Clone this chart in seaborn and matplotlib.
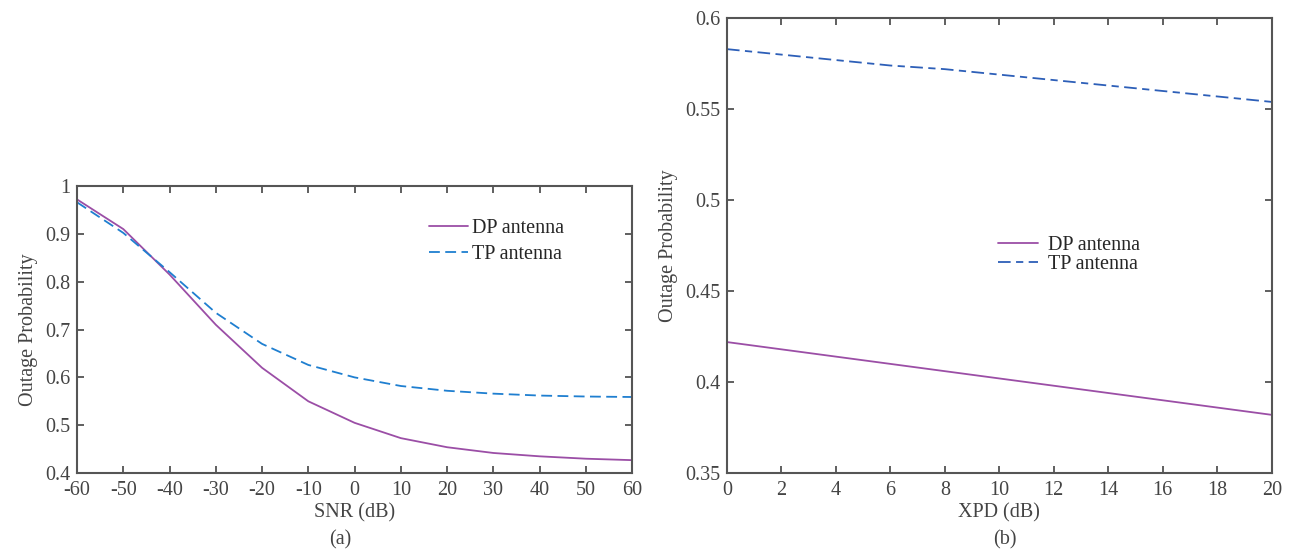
import numpy as np
import pandas as pd
import matplotlib
matplotlib.use("Agg")
import matplotlib.pyplot as plt
import seaborn as sns

sns.set_theme(style="white")
plt.rcParams['font.family'] = ['Liberation Serif', 'DejaVu Serif']
plt.rcParams['axes.unicode_minus'] = False

# (a) outage probability vs SNR
snr = [-60, -50, -40, -30, -20, -10, 0, 10, 20, 30, 40, 50, 60]
dp_snr = [0.972, 0.910, 0.815, 0.710, 0.620, 0.550, 0.505, 0.473, 0.454, 0.442, 0.435, 0.430, 0.427]
tp_snr = [0.966, 0.902, 0.820, 0.735, 0.670, 0.626, 0.600, 0.582, 0.572, 0.566, 0.562, 0.560, 0.559]

# (b) outage probability vs XPD
xpd = [0, 2, 4, 6, 8, 10, 12, 14, 16, 18, 20]
dp_xpd = [0.422, 0.418, 0.414, 0.410, 0.406, 0.402, 0.398, 0.394, 0.390, 0.386, 0.382]
tp_xpd = [0.583, 0.580, 0.577, 0.574, 0.572, 0.569, 0.566, 0.563, 0.560, 0.557, 0.554]

purple = '#9b4ea6'
blue_a = '#1f7fd0'
blue_b = '#2d5fb8'
grey = '#444444'

fig = plt.figure(figsize=(12.97, 5.52), dpi=100)
ax1 = fig.add_axes([0.0594, 0.143, 0.428, 0.520])
ax2 = fig.add_axes([0.5605, 0.143, 0.420, 0.824])

df_a = pd.DataFrame({'x': snr + snr,
                     'y': dp_snr + tp_snr,
                     'series': ['DP antenna'] * len(snr) + ['TP antenna'] * len(snr)})
df_b = pd.DataFrame({'x': xpd + xpd,
                     'y': dp_xpd + tp_xpd,
                     'series': ['DP antenna'] * len(xpd) + ['TP antenna'] * len(xpd)})

sns.lineplot(data=df_a, x='x', y='y', hue='series', style='series',
             palette=[purple, blue_a], dashes=['', (6, 3)], linewidth=1.3, ax=ax1)
sns.lineplot(data=df_b, x='x', y='y', hue='series', style='series',
             palette=[purple, blue_b], dashes=['', (7, 3, 4, 3)], linewidth=1.3, ax=ax2)

def style_axes(ax, xlabel, xlim, ylim, xticks, yticks, ylabels):
    ax.set_xlim(*xlim)
    ax.set_ylim(*ylim)
    ax.set_xticks(xticks)
    ax.set_yticks(yticks)
    ax.set_yticklabels(ylabels)
    ax.set_xlabel(xlabel, fontsize=14.5, color=grey, labelpad=2)
    ax.set_ylabel('Outage Probability', fontsize=14.5, color=grey, labelpad=5)
    ax.tick_params(direction='in', length=5, width=1.2, top=True, right=True,
                   bottom=True, left=True, labelsize=14.5, colors=grey)
    ax.tick_params(axis='x', pad=6)
    ax.tick_params(axis='y', pad=5)
    for s in ax.spines.values():
        s.set_color('#555555')
        s.set_linewidth(1.5)
    ax.grid(False)

style_axes(ax1, 'SNR (dB)', (-60, 60), (0.4, 1.0), snr,
           [0.4, 0.5, 0.6, 0.7, 0.8, 0.9, 1.0],
           ['0.4', '0.5', '0.6', '0.7', '0.8', '0.9', '1'])
style_axes(ax2, 'XPD (dB)', (0, 20), (0.35, 0.6), xpd,
           [0.35, 0.4, 0.45, 0.5, 0.55, 0.6],
           ['0.35', '0.4', '0.45', '0.5', '0.55', '0.6'])

ax1.legend(title=None, frameon=False, fontsize=14.5, loc='upper left',
           bbox_to_anchor=(0.62, 0.915), handlelength=1.9, handletextpad=0.2,
           labelspacing=0.35, borderaxespad=0)
ax2.legend(title=None, frameon=False, fontsize=14.5, loc='upper left',
           bbox_to_anchor=(0.483, 0.54), handlelength=2.0, handletextpad=0.5,
           labelspacing=0.0, borderaxespad=0)

fig.text(340 / 1297, 1 - 540 / 552, '(a)', fontsize=14.5, color=grey, ha='center', va='center')
fig.text(1005 / 1297, 1 - 540 / 552, '(b)', fontsize=14.5, color=grey, ha='center', va='center')

fig.savefig('out.png', dpi=100)
